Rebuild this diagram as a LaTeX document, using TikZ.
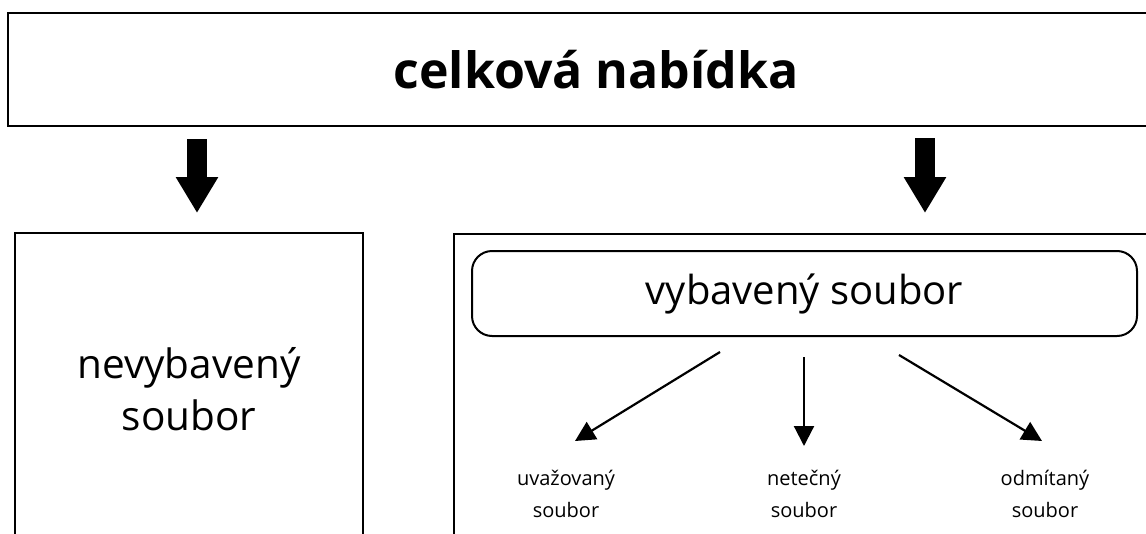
\documentclass[tikz,border=0pt]{standalone}
\usepackage{fontspec}
\setmainfont{Open Sans}
\usetikzlibrary{arrows.meta}

\begin{document}
\begin{tikzpicture}%
        [x=1pt, y=-1pt,
        box/.style={draw=black, line width=2pt, inner sep=0pt, align=center},
        roundbox/.style={box, rounded corners=20pt},
        bigarrow/.style={line width=20pt, -{Triangle[width=40pt,length=36pt]}},
        smallarrow/.style={line width=2.2pt, -{Triangle[width=20pt,length=20pt]}},
        label/.style={align=center, font=\fontsize{20}{32}\selectfont}]

    \useasboundingbox (0,0) rectangle (1146,533);
    \clip (0,0) rectangle (1146,533);

    %% Drawing the boxes
    \node[box, minimum width=1176pt, minimum height=113pt,
          font=\fontsize{50}{56}\bfseries] (offer) at (596,69.5) {celková nabídka};
    \node[box, minimum width=348pt, minimum height=312pt,
          font=\fontsize{40.5}{52}\selectfont] (unaware) at (189,389) {nevybavený\\soubor};
    \node[box, minimum width=720pt, minimum height=330pt, anchor=north west] (aware) at (453,233) {};
    \node[roundbox, minimum width=665pt, minimum height=85pt,
          font=\fontsize{40}{44}\selectfont] (evoked) at (804.5,293.5) {vybavený soubor};
    %%
    %% Drawing the subsets
    %%
    \node[label] (considered) at (566,494) {uvažovaný\\soubor};
    \node[label] (inert) at (804,494) {netečný\\soubor};
    \node[label] (rejected) at (1045,494) {odmítaný\\soubor};
    %%
    %% Drawing the arrows
    %%
    \coordinate (left top) at (197,139);
    \coordinate (left tip) at (197,213);
    \coordinate (right top) at (925,138);
    \coordinate (right tip) at (925,213);
    \draw[bigarrow] (left top) -- (left tip);
    \draw[bigarrow] (right top) -- (right tip);

    \coordinate (c start) at (720,352);
    \coordinate (c tip) at (575,441);
    \coordinate (i start) at (804,357);
    \coordinate (i tip) at (804,446);
    \coordinate (r start) at (899,355);
    \coordinate (r tip) at (1042,441);
    \draw[smallarrow] (c start) -- (c tip);
    \draw[smallarrow] (i start) -- (i tip);
    \draw[smallarrow] (r start) -- (r tip);
    %%
\end{tikzpicture}
\end{document}
